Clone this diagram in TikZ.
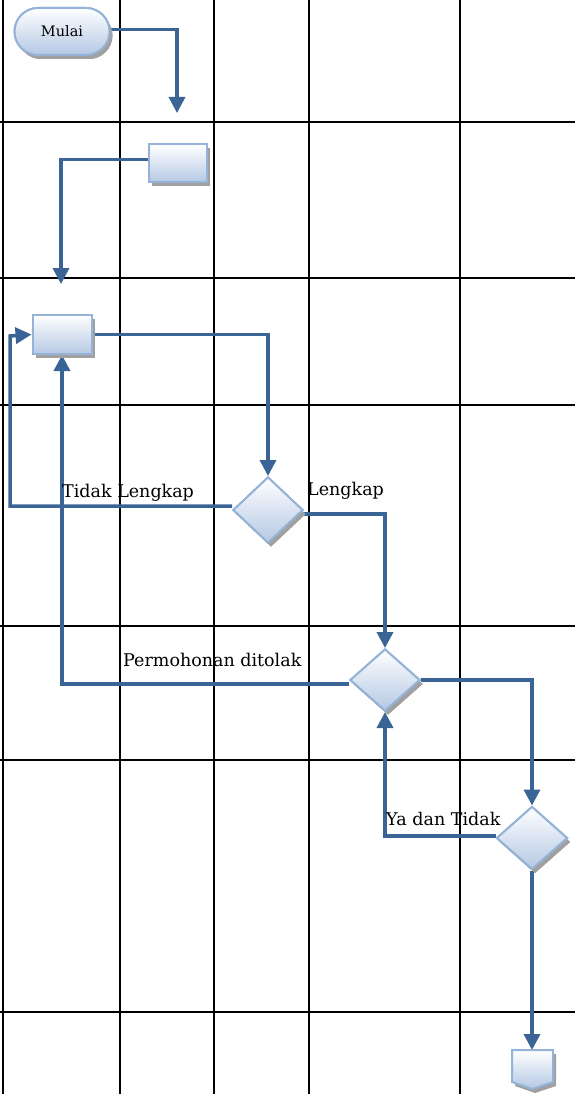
\documentclass[tikz,border=0pt]{standalone}
\usepackage{fontspec}
\setmainfont{DejaVu Serif}
\usetikzlibrary{arrows.meta,shapes.geometric,shapes.misc,shadows,calc}

\definecolor{flowblue}{HTML}{3A6496}
\definecolor{shapeedge}{HTML}{95B3D7}
\definecolor{shapebottom}{HTML}{B4C8E4}
\definecolor{shadowgray}{HTML}{A0A0A0}

\tikzset{
  laneline/.style={line width=2.2pt,black},
  flow/.style={draw=flowblue,line width=3.5pt,-{Triangle[width=16pt,length=16pt]}},
  flowshape/.style={draw=shapeedge,line width=2pt,top color=white,bottom color=shapebottom,
    inner sep=0pt,
    drop shadow={shadow xshift=3pt,shadow yshift=-4pt,fill=shadowgray,opacity=1}},
  procbox/.style={flowshape,rectangle,minimum width=58pt,minimum height=38pt},
  decision/.style={flowshape,diamond,minimum width=70pt,minimum height=64pt},
  terminal/.style={flowshape,rounded rectangle,minimum width=95pt,minimum height=47pt,font=\fontsize{14.5}{17}\selectfont},
  lbl/.style={anchor=base west,inner sep=0pt,font=\fontsize{17.5}{20}\selectfont}
}

\begin{document}
\begin{tikzpicture}[x=1pt,y=-1pt]
\useasboundingbox (0,0) rectangle (575,1094);

% swimlane grid
\foreach \gx in {3,120,214,309,460}
  \draw[laneline] (\gx,0) -- (\gx,1094);
\foreach \gy in {122,278,405,626,760,1012}
  \draw[laneline] (0,\gy) -- (575,\gy);

% free ends of connectors
\coordinate (c1) at (177,113);
\coordinate (c2) at (61,284);
\coordinate (k1) at (10,336);
\coordinate (endtop) at (532,1050);

% flow shapes (positions only, drawn after connectors)
\path (62,31.5) node[terminal] (mulai) {Mulai};
\path (178,163.5) node[procbox] (box2) {};
\path (62,334.5) node[procbox,minimum width=59pt,minimum height=39pt] (box3) {};
\path (268,510) node[decision,minimum height=66pt] (d1) {};
\path (385,680) node[decision,minimum height=62pt] (d2) {};
\path (532,838) node[decision,minimum width=71pt,minimum height=63pt] (d3) {};

% connectors
\draw[flow] ($(mulai.east)+(-5,-2)$) -| (c1);
\draw[flow] ($(box2.west)+(0,-4)$) -| (c2);
\draw[flow] (box3.east) -| (d1.north);
\draw[flow] ($(d1.west)+(0,-4)$) -| (k1) -- (box3.west);
\draw[flow] ($(d1.east)+(0,4)$) -| (d2.north);
\draw[flow] ($(d2.west)+(0,4)$) -| (box3.south);
\draw[flow] (d2.east) -| (d3.north);
\draw[flow] ($(d3.west)+(0,-2)$) -| (d2.south);
\draw[flow] (d3.south) -- (endtop);

% redraw shapes on top of connectors
\node[terminal] at (mulai) {Mulai};
\node[procbox] at (box2) {};
\node[procbox,minimum width=59pt,minimum height=39pt] at (box3) {};
\node[decision,minimum height=66pt] at (d1) {};
\node[decision,minimum height=62pt] at (d2) {};
\node[decision,minimum width=71pt,minimum height=63pt] at (d3) {};

% off-page connector at the end
\fill[shadowgray] (515,1054) -- (556,1054) -- (556,1086) -- (535,1093) -- (515,1086) -- cycle;
\draw[draw=shapeedge,line width=2pt,top color=white,bottom color=shapebottom]
  (512,1050) -- (553,1050) -- (553,1082) -- (532.5,1089) -- (512,1082) -- cycle;

% branch labels
\node[lbl] (t1) at (62,497) {Tidak Lengkap};
\node[lbl] (t2) at (307,495) {Lengkap};
\node[lbl] (t3) at (123,666) {Permohonan ditolak};
\node[lbl] (t4) at (386,825) {Ya dan Tidak};
\end{tikzpicture}
\end{document}
